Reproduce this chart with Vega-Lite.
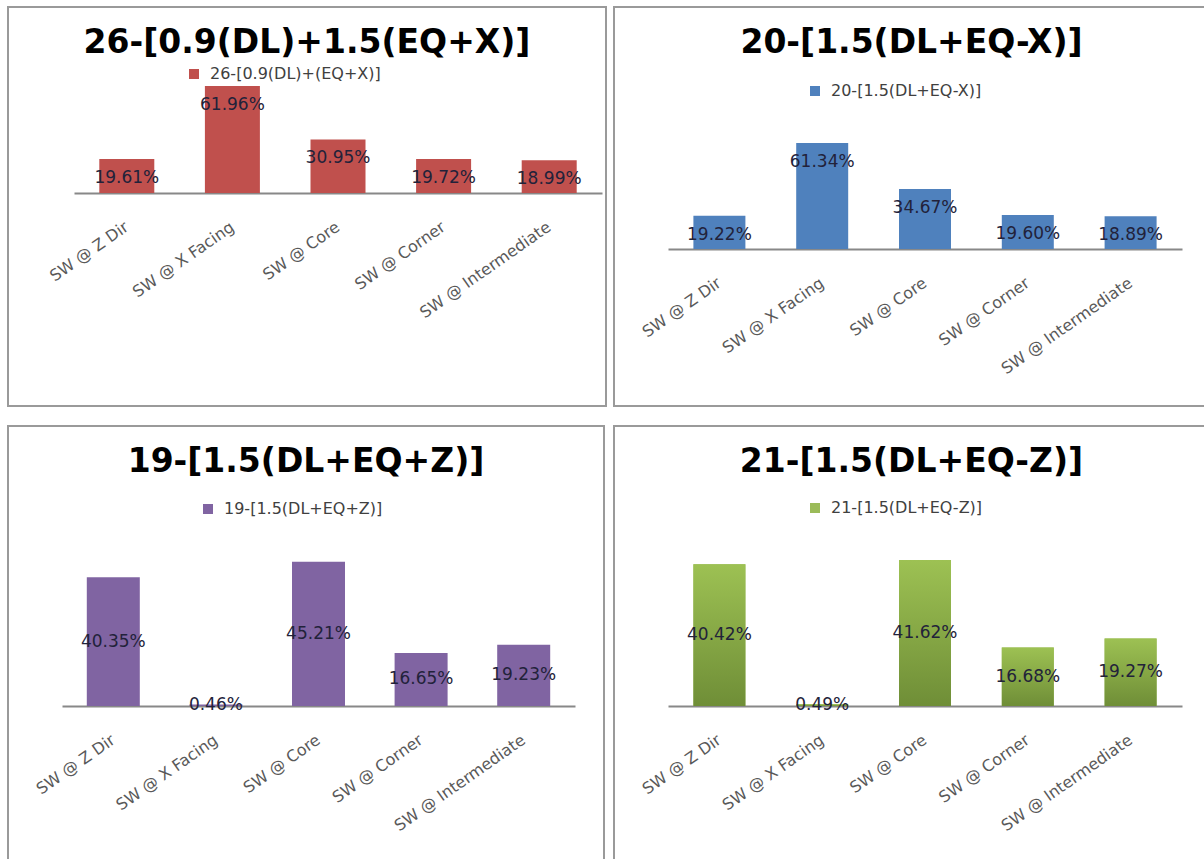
{
  "$schema": "https://vega.github.io/schema/vega-lite/v6.json",
  "padding": {"left": 7, "top": 6, "right": 0, "bottom": 0},
  "background": "white",
  "data": {
    "values": [
      {"combo": "26", "series": "26-[0.9(DL)+(EQ+X)]", "wall": "SW @ Z Dir", "share": 0.1961},
      {"combo": "26", "series": "26-[0.9(DL)+(EQ+X)]", "wall": "SW @ X Facing", "share": 0.6196},
      {"combo": "26", "series": "26-[0.9(DL)+(EQ+X)]", "wall": "SW @ Core", "share": 0.3095},
      {"combo": "26", "series": "26-[0.9(DL)+(EQ+X)]", "wall": "SW @ Corner", "share": 0.1972},
      {"combo": "26", "series": "26-[0.9(DL)+(EQ+X)]", "wall": "SW @ Intermediate", "share": 0.1899},
      {"combo": "20", "series": "20-[1.5(DL+EQ-X)]", "wall": "SW @ Z Dir", "share": 0.1922},
      {"combo": "20", "series": "20-[1.5(DL+EQ-X)]", "wall": "SW @ X Facing", "share": 0.6134},
      {"combo": "20", "series": "20-[1.5(DL+EQ-X)]", "wall": "SW @ Core", "share": 0.3467},
      {"combo": "20", "series": "20-[1.5(DL+EQ-X)]", "wall": "SW @ Corner", "share": 0.1960},
      {"combo": "20", "series": "20-[1.5(DL+EQ-X)]", "wall": "SW @ Intermediate", "share": 0.1889},
      {"combo": "19", "series": "19-[1.5(DL+EQ+Z)]", "wall": "SW @ Z Dir", "share": 0.4035},
      {"combo": "19", "series": "19-[1.5(DL+EQ+Z)]", "wall": "SW @ X Facing", "share": 0.0046},
      {"combo": "19", "series": "19-[1.5(DL+EQ+Z)]", "wall": "SW @ Core", "share": 0.4521},
      {"combo": "19", "series": "19-[1.5(DL+EQ+Z)]", "wall": "SW @ Corner", "share": 0.1665},
      {"combo": "19", "series": "19-[1.5(DL+EQ+Z)]", "wall": "SW @ Intermediate", "share": 0.1923},
      {"combo": "21", "series": "21-[1.5(DL+EQ-Z)]", "wall": "SW @ Z Dir", "share": 0.4042},
      {"combo": "21", "series": "21-[1.5(DL+EQ-Z)]", "wall": "SW @ X Facing", "share": 0.0049},
      {"combo": "21", "series": "21-[1.5(DL+EQ-Z)]", "wall": "SW @ Core", "share": 0.4162},
      {"combo": "21", "series": "21-[1.5(DL+EQ-Z)]", "wall": "SW @ Corner", "share": 0.1668},
      {"combo": "21", "series": "21-[1.5(DL+EQ-Z)]", "wall": "SW @ Intermediate", "share": 0.1927}
    ]
  },
  "vconcat": [
    {
      "hconcat": [
        {
          "width": 598,
          "height": 399,
          "title": {"text": "26-[0.9(DL)+1.5(EQ+X)]"},
          "transform": [{"filter": "datum.combo == '26'"}],
          "encoding": {
            "x": {
              "field": "wall", "type": "nominal", "sort": null, "title": null,
              "scale": {"range": [66, 594], "paddingInner": 0, "paddingOuter": 0},
              "axis": {"offset": -213}
            },
            "y": {
              "field": "share", "type": "quantitative", "axis": null,
              "scale": {"domain": [0, 1.076], "range": [186, 0]}
            }
          },
          "layer": [
            {
              "mark": {"type": "bar", "width": 55},
              "encoding": {
                "color": {
                  "field": "series", "type": "nominal",
                  "scale": {"range": ["#C0504D"]},
                  "legend": {"orient": "none", "legendX": 178, "legendY": 59}
                }
              }
            },
            {
              "mark": {"type": "text", "dy": 19},
              "encoding": {"text": {"field": "share", "type": "quantitative", "format": ".2%"}}
            }
          ]
        },
        {
          "width": 595,
          "height": 399,
          "title": {"text": "20-[1.5(DL+EQ-X)]"},
          "transform": [{"filter": "datum.combo == '20'"}],
          "encoding": {
            "x": {
              "field": "wall", "type": "nominal", "sort": null, "title": null,
              "scale": {"range": [54, 568], "paddingInner": 0, "paddingOuter": 0},
              "axis": {"offset": -157}
            },
            "y": {
              "field": "share", "type": "quantitative", "axis": null,
              "scale": {"domain": [0, 1.40], "range": [242, 0]}
            }
          },
          "layer": [
            {
              "mark": {"type": "bar", "width": 52},
              "encoding": {
                "color": {
                  "field": "series", "type": "nominal",
                  "scale": {"range": ["#4F81BD"]},
                  "legend": {"orient": "none", "legendX": 193, "legendY": 76}
                }
              }
            },
            {
              "mark": {"type": "text", "dy": 19},
              "encoding": {"text": {"field": "share", "type": "quantitative", "format": ".2%"}}
            }
          ]
        }
      ],
      "spacing": 6,
      "resolve": {"scale": {"color": "independent"}, "legend": {"color": "independent"}}
    },
    {
      "hconcat": [
        {
          "width": 596,
          "height": 440,
          "title": {"text": "19-[1.5(DL+EQ+Z)]"},
          "transform": [{"filter": "datum.combo == '19'"}],
          "encoding": {
            "x": {
              "field": "wall", "type": "nominal", "sort": null, "title": null,
              "scale": {"range": [54, 567], "paddingInner": 0, "paddingOuter": 0},
              "axis": {"offset": -160}
            }
          },
          "layer": [
            {
              "mark": {"type": "bar", "width": 53},
              "encoding": {
                "y": {
                  "field": "share", "type": "quantitative", "axis": null,
                  "scale": {"domain": [0, 0.878], "range": [280, 0]}
                },
                "color": {
                  "field": "series", "type": "nominal",
                  "scale": {"range": ["#8064A2"]},
                  "legend": {"orient": "none", "legendX": 192, "legendY": 75}
                }
              }
            },
            {
              "mark": {"type": "text"},
              "encoding": {
                "y": {
                  "field": "share", "type": "quantitative", "axis": null,
                  "scale": {"domain": [0, 1.756], "range": [280, 0]}
                },
                "text": {"field": "share", "type": "quantitative", "format": ".2%"}
              }
            }
          ],
          "resolve": {"scale": {"y": "independent"}}
        },
        {
          "width": 595,
          "height": 440,
          "title": {"text": "21-[1.5(DL+EQ-Z)]"},
          "transform": [{"filter": "datum.combo == '21'"}],
          "encoding": {
            "x": {
              "field": "wall", "type": "nominal", "sort": null, "title": null,
              "scale": {"range": [54, 568], "paddingInner": 0, "paddingOuter": 0},
              "axis": {"offset": -160}
            }
          },
          "layer": [
            {
              "mark": {"type": "bar", "width": 52},
              "encoding": {
                "y": {
                  "field": "share", "type": "quantitative", "axis": null,
                  "scale": {"domain": [0, 0.798], "range": [280, 0]}
                },
                "color": {
                  "field": "series", "type": "nominal",
                  "scale": {"range": ["#9BBB59"]},
                  "legend": {"orient": "none", "legendX": 193, "legendY": 74}
                }
              }
            },
            {
              "mark": {
                "type": "bar", "width": 52,
                "color": {
                  "gradient": "linear", "x1": 0, "y1": 0, "x2": 0, "y2": 1,
                  "stops": [
                    {"offset": 0, "color": "#9DC153"},
                    {"offset": 1, "color": "#6F8E37"}
                  ]
                }
              },
              "encoding": {
                "y": {
                  "field": "share", "type": "quantitative", "axis": null,
                  "scale": {"domain": [0, 0.798], "range": [280, 0]}
                }
              }
            },
            {
              "mark": {"type": "text"},
              "encoding": {
                "y": {
                  "field": "share", "type": "quantitative", "axis": null,
                  "scale": {"domain": [0, 1.596], "range": [280, 0]}
                },
                "text": {"field": "share", "type": "quantitative", "format": ".2%"}
              }
            }
          ],
          "resolve": {"scale": {"y": "independent"}}
        }
      ],
      "spacing": 8,
      "resolve": {"scale": {"color": "independent"}, "legend": {"color": "independent"}}
    }
  ],
  "spacing": 18,
  "resolve": {"scale": {"color": "independent"}, "legend": {"color": "independent"}},
  "config": {
    "view": {"stroke": "#9a9a9a", "strokeWidth": 2},
    "font": "DejaVu Sans",
    "title": {
      "font": "DejaVu Sans", "fontSize": 33, "fontWeight": "bold", "color": "#000000",
      "anchor": "middle", "frame": "group", "offset": -53, "baseline": "alphabetic"
    },
    "axisX": {
      "ticks": false, "grid": false,
      "domainColor": "#888888", "domainWidth": 2,
      "labelAngle": -35, "labelAlign": "right", "labelBaseline": "middle",
      "labelPadding": 32, "labelColor": "#595959",
      "labelFont": "DejaVu Sans", "labelFontSize": 16, "labelLimit": 0
    },
    "legend": {
      "title": null, "padding": 0, "symbolType": "square", "symbolSize": 100,
      "symbolStrokeWidth": 0, "labelFont": "DejaVu Sans", "labelFontSize": 16,
      "labelColor": "#404040", "labelOffset": 8, "symbolOpacity": 1, "labelLimit": 0
    },
    "text": {"font": "DejaVu Sans", "fontSize": 17, "color": "#22223a", "baseline": "middle", "align": "center"}
  }
}
